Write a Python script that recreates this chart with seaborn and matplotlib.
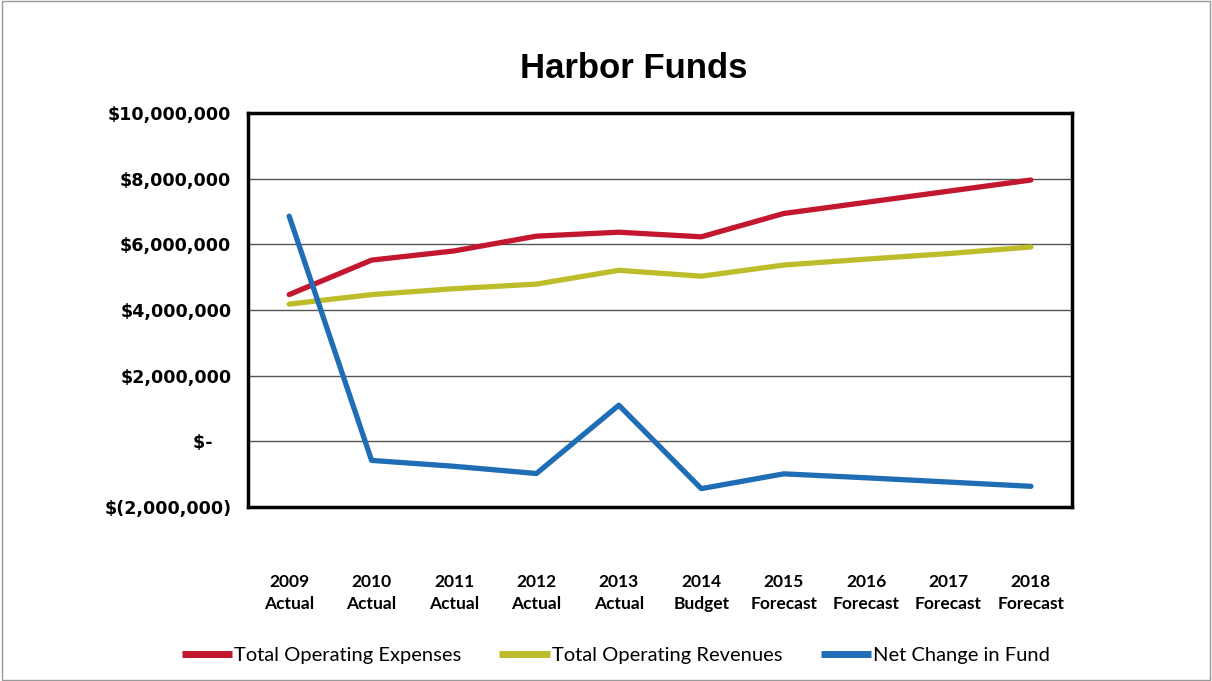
import matplotlib
matplotlib.use("Agg")
import matplotlib.pyplot as plt
import seaborn as sns
import pandas as pd
from matplotlib.ticker import FuncFormatter

categories = ["2009\nActual", "2010\nActual", "2011\nActual", "2012\nActual", "2013\nActual",
              "2014\nBudget", "2015\nForecast", "2016\nForecast", "2017\nForecast", "2018\nForecast"]
expenses = [4470000, 5520000, 5800000, 6250000, 6370000, 6230000, 6940000, 7280000, 7620000, 7960000]
revenues = [4180000, 4470000, 4650000, 4790000, 5210000, 5030000, 5370000, 5550000, 5720000, 5920000]
net_change = [6860000, -580000, -760000, -980000, 1100000, -1440000, -990000, -1110000, -1240000, -1370000]
series_names = ["Total Operating Expenses", "Total Operating Revenues", "Net Change in Fund"]
colors = ["#C3172F", "#BDBD2C", "#1F6DB4"]

rows = []
for name, vals in zip(series_names, [expenses, revenues, net_change]):
    for i, v in enumerate(vals):
        rows.append({"pos": i, "Category": categories[i], "Value": v, "Series": name})
df = pd.DataFrame(rows)

sns.set_theme(style="white")
plt.rcParams['font.family'] = ['Lato', 'DejaVu Sans']
plt.rcParams['text.color'] = 'black'
plt.rcParams['xtick.color'] = 'black'
plt.rcParams['ytick.color'] = 'black'

fig = plt.figure(figsize=(12.12, 6.81), dpi=100)
ax = fig.add_axes([0.2046, 0.2555, 0.68, 0.5785])

sns.lineplot(data=df, x="pos", y="Value", hue="Series", hue_order=series_names,
             palette=colors, linewidth=3.8, ax=ax, legend=True, sort=False,
             solid_capstyle="round", solid_joinstyle="round")

ax.set_xlim(-0.5, 9.5)
ax.set_ylim(-2000000, 10000000)
ax.set_yticks(range(-2000000, 10000001, 2000000))

def fmt(v, pos):
    if v == 0:
        return "$-   "
    if v < 0:
        return "$(" + f"{abs(int(v)):,}" + ")"
    return "$" + f"{int(v):,}"

ax.yaxis.set_major_formatter(FuncFormatter(fmt))
ax.set_xticks(range(len(categories)))
ax.set_xticklabels(categories, fontsize=12.5, fontweight="bold", linespacing=1.45)
for lab in ax.get_yticklabels():
    lab.set_fontsize(12.6)
    lab.set_fontweight("bold")
    lab.set_family(["DejaVu Sans"])
ax.tick_params(axis="x", pad=48, length=0)
ax.tick_params(axis="y", pad=12, length=0)
ax.set_xlabel("")
ax.set_ylabel("")
ax.grid(axis="y", color="#555555", linewidth=1.0)
ax.grid(axis="x", visible=False)
for s in ax.spines.values():
    s.set_visible(True)
    s.set_color("black")
    s.set_linewidth(2.5)

fig.text(0.523, 0.899, "Harbor Funds", ha="center", va="center",
         fontsize=25, fontweight="bold", family=["Liberation Sans", "DejaVu Sans"])

ax.get_legend().remove()
handles, labels = ax.get_legend_handles_labels()
for h in handles:
    h.set_linewidth(5)
    h.set_solid_capstyle("butt")
fig.legend(handles, labels, loc="center", bbox_to_anchor=(0.508, 0.037), ncol=3,
           frameon=False, fontsize=14.5, handlelength=2.5, handletextpad=0.1,
           columnspacing=1.9)

border = plt.Rectangle((0.002, 0.002), 0.996, 0.996, transform=fig.transFigure,
                       fill=False, edgecolor="#999999", linewidth=1.0)
fig.patches.append(border)

fig.savefig("out.png", dpi=100)
